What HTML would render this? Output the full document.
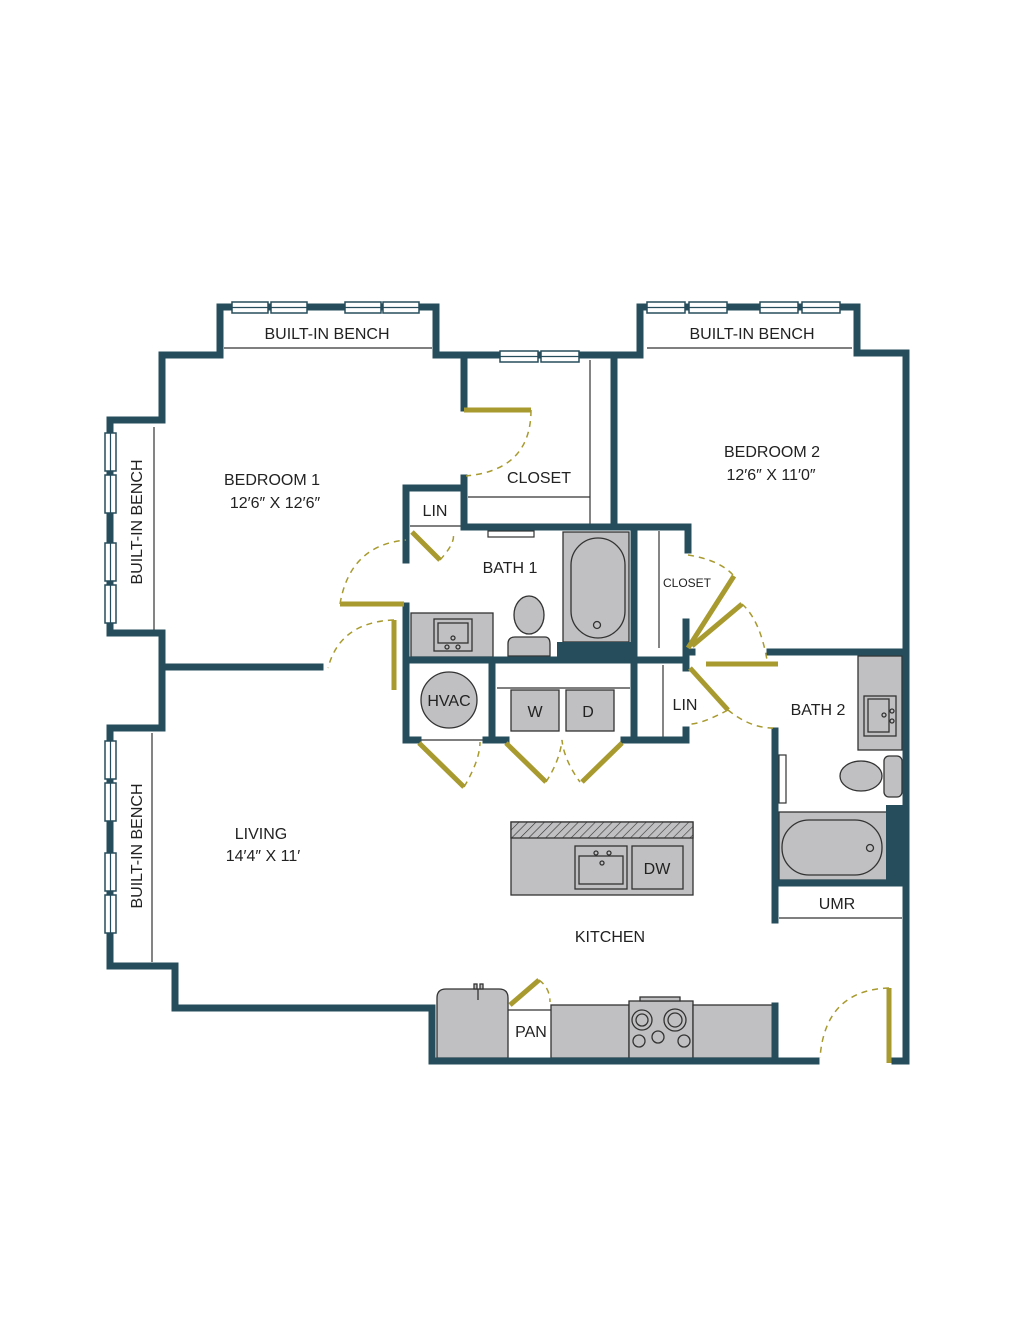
<!DOCTYPE html>
<html><head><meta charset="utf-8"><style>
html,body{margin:0;padding:0;background:#fff;}
svg{display:block}
text{font-family:"Liberation Sans",sans-serif;fill:#222;}
</style></head><body>
<svg width="1018" height="1336" viewBox="0 0 1018 1336" xmlns="http://www.w3.org/2000/svg">
<defs>
<pattern id="hatch" width="6" height="6" patternUnits="userSpaceOnUse" patternTransform="rotate(45)">
<rect width="6" height="6" fill="#c0c0c2"/><line x1="0" y1="0" x2="0" y2="6" stroke="#333" stroke-width="1.2"/>
</pattern>
</defs>
<!-- fixtures (gray) -->
<g fill="#c0c0c2" stroke="#333" stroke-width="1.3">
<rect x="411" y="613" width="82" height="44"/>
<rect x="434" y="619" width="38" height="32" fill="none"/><rect x="438" y="623" width="30" height="20" fill="none"/>
<circle cx="453" cy="638" r="2" fill="none"/><circle cx="447" cy="647" r="2" fill="none"/><circle cx="458" cy="647" r="2" fill="none"/>
<path d="M508 656 V644 Q508 637 515 637 H545 Q550 637 550 644 V656 Z"/>
<ellipse cx="529" cy="615" rx="15" ry="19"/>
<rect x="563" y="532" width="66" height="110"/>
<rect x="571" y="538" width="54" height="100" rx="27"/>
<circle cx="597" cy="625" r="3.5" fill="none"/>
<rect x="497" y="690" width="0" height="0"/>
<rect x="511" y="690" width="48" height="41"/><rect x="566" y="690" width="48" height="41"/>
<circle cx="449" cy="700" r="28"/>
<rect x="858" y="656" width="44" height="94"/>
<rect x="864" y="696" width="32" height="40" fill="none"/><rect x="868" y="699" width="21" height="33" fill="none"/>
<circle cx="884" cy="715" r="2" fill="none"/><circle cx="892" cy="711" r="2" fill="none"/><circle cx="892" cy="721" r="2" fill="none"/>
<ellipse cx="861" cy="776" rx="21" ry="15"/>
<rect x="884" y="756" width="18" height="41" rx="5"/>
<rect x="779" y="812" width="108" height="68"/>
<rect x="782" y="820" width="100" height="55" rx="27"/>
<circle cx="870" cy="848" r="3.5" fill="none"/>
<rect x="511" y="822" width="182" height="73"/>
<rect x="511" y="822" width="182" height="16" fill="url(#hatch)"/>
<rect x="575" y="846" width="52" height="43" fill="none"/><rect x="579" y="856" width="44" height="28" fill="none"/>
<circle cx="596" cy="853" r="2" fill="none"/><circle cx="609" cy="853" r="2" fill="none"/><circle cx="602" cy="863" r="2" fill="none"/>
<rect x="632" y="846" width="51" height="43" fill="none"/>
<path d="M437 1058 V998 Q437 989 446 989 H499 Q508 989 508 998 V1058 Z"/>
<line x1="478" y1="989" x2="478" y2="1000"/><rect x="474" y="984" width="3" height="5"/><rect x="480" y="984" width="3" height="5"/>
<rect x="551" y="1005" width="78" height="53"/>
<rect x="629" y="1001" width="64" height="57"/><rect x="640" y="997" width="40" height="4"/>
<circle cx="642" cy="1020" r="10" fill="none"/><circle cx="642" cy="1020" r="6" fill="none"/>
<circle cx="675" cy="1020" r="11" fill="none"/><circle cx="675" cy="1020" r="7" fill="none"/>
<circle cx="639" cy="1041" r="6" fill="none"/><circle cx="658" cy="1037" r="6" fill="none"/><circle cx="684" cy="1041" r="6" fill="none"/>
<rect x="693" y="1005" width="80" height="53"/>
</g>
<!-- thin lines -->
<g stroke="#333" stroke-width="1.2" fill="none">
<line x1="224" y1="348" x2="432" y2="348"/>
<line x1="647" y1="348" x2="852" y2="348"/>
<line x1="154" y1="427" x2="154" y2="631"/>
<line x1="152" y1="733" x2="152" y2="962"/>
<line x1="468" y1="497" x2="590" y2="497"/>
<line x1="590" y1="360" x2="590" y2="525"/>
<line x1="410" y1="526" x2="462" y2="526"/>
<rect x="488" y="531" width="46" height="6"/>
<line x1="497" y1="688" x2="630" y2="688"/>
<line x1="420" y1="740" x2="484" y2="740"/>
<line x1="659" y1="531" x2="659" y2="648"/>
<line x1="663" y1="665" x2="663" y2="737"/>
<rect x="779" y="755" width="7" height="48"/>
<line x1="779" y1="918" x2="902" y2="918"/>
<line x1="508" y1="1010" x2="551" y2="1010"/>
</g>
<!-- walls -->
<g stroke="#264d5c" stroke-width="7" fill="none" stroke-linejoin="miter" stroke-linecap="square">
<path d="M110 633 H162 V668 M110 728 H162 V668"/>
<path d="M110 633 V420 H162 V355 H220 V307 H436 V355 H614 M614 355 H640 V307 H857 V353 H906 V1061 H895"/>
<path d="M110 728 V966 H175 V1008 H432 V1061 H816"/>
<path d="M165 667 H320"/>
<path d="M464 355 V408"/>
<path d="M464 478 V527 M406 560 V488 H464"/>
<path d="M614 355 V527"/>
<path d="M464 527 H688 V550"/>
<path d="M406 606 V740 H418 M486 740 H506 M492 662 V740"/>
<path d="M406 660 H686 M634 527 V740 H624 M634 740 H686 V730"/>
<path d="M686 622 V668 M688 652 H692"/>
<path d="M770 652 H906"/>
<path d="M775 731 V920 M779 883 H906"/>
<path d="M775 1006 V1058"/>
</g>
<rect x="557" y="642" width="75" height="16" fill="#264d5c"/>
<rect x="886" y="805" width="20" height="80" fill="#264d5c"/>
<!-- windows -->
<g fill="#fff" stroke="#264d5c" stroke-width="1.5">
<rect x="232" y="302" width="36" height="11"/><rect x="271" y="302" width="36" height="11"/>
<rect x="345" y="302" width="36" height="11"/><rect x="383" y="302" width="36" height="11"/>
<rect x="500" y="351" width="38" height="11"/><rect x="541" y="351" width="38" height="11"/>
<rect x="647" y="302" width="38" height="11"/><rect x="689" y="302" width="38" height="11"/>
<rect x="760" y="302" width="38" height="11"/><rect x="802" y="302" width="38" height="11"/>
<rect x="105" y="433" width="11" height="38"/><rect x="105" y="475" width="11" height="38"/>
<rect x="105" y="543" width="11" height="38"/><rect x="105" y="585" width="11" height="38"/>
<rect x="105" y="741" width="11" height="38"/><rect x="105" y="783" width="11" height="38"/>
<rect x="105" y="853" width="11" height="38"/><rect x="105" y="895" width="11" height="38"/>
</g>
<g stroke="#264d5c" stroke-width="1.2">
<line x1="232" y1="307.5" x2="419" y2="307.5"/><line x1="500" y1="356.5" x2="579" y2="356.5"/>
<line x1="647" y1="307.5" x2="840" y2="307.5"/>
<line x1="110.5" y1="433" x2="110.5" y2="623"/><line x1="110.5" y1="741" x2="110.5" y2="933"/>
</g>
<!-- doors -->
<g stroke="#a89a2e" stroke-width="5" fill="none">
<line x1="464" y1="410" x2="531" y2="410"/>
<line x1="412" y1="532" x2="440" y2="560"/>
<line x1="340" y1="604" x2="404" y2="604"/>
<line x1="394" y1="620" x2="394" y2="690"/>
<line x1="419" y1="743" x2="464" y2="787"/>
<line x1="506" y1="743" x2="546" y2="782"/>
<line x1="622" y1="743" x2="582" y2="782"/>
<line x1="688" y1="648" x2="734" y2="576"/>
<line x1="692" y1="646" x2="742" y2="604"/>
<line x1="706" y1="664" x2="778" y2="664"/>
<line x1="690" y1="668" x2="728" y2="710"/>
<line x1="510" y1="1005" x2="539" y2="980"/>
<line x1="889" y1="988" x2="889" y2="1063"/>
</g>
<g stroke="#a89a2e" stroke-width="1.5" fill="none" stroke-dasharray="6 5">
<path d="M531 410 Q531 470 466 476"/>
<path d="M440 560 Q458 540 452 532"/>
<path d="M340 604 Q350 545 406 540"/>
<path d="M394 620 Q340 622 328 668"/>
<path d="M464 787 Q480 760 480 742"/>
<path d="M546 782 Q560 760 562 740 Q564 760 580 782"/>
<path d="M688 555 Q720 560 734 576"/>
<path d="M742 604 Q760 620 767 660"/>
<path d="M728 710 Q750 728 773 728"/>
<path d="M728 710 Q700 725 688 724"/>
<path d="M539 980 Q550 988 550 1002"/>
<path d="M889 988 Q825 990 820 1058"/>
</g>
<!-- labels -->
<g font-size="16" text-anchor="middle">
<text x="327" y="339">BUILT-IN BENCH</text>
<text x="752" y="339">BUILT-IN BENCH</text>
<text x="272" y="485">BEDROOM 1</text>
<text x="275" y="508">12′6″ X 12′6″</text>
<text x="772" y="457">BEDROOM 2</text>
<text x="771" y="480">12′6″ X 11′0″</text>
<text x="539" y="483">CLOSET</text>
<text x="435" y="516">LIN</text>
<text x="510" y="573">BATH 1</text>
<text x="687" y="587" font-size="12">CLOSET</text>
<text x="449" y="706">HVAC</text>
<text x="535" y="717">W</text>
<text x="588" y="717">D</text>
<text x="685" y="710">LIN</text>
<text x="818" y="715">BATH 2</text>
<text x="261" y="839">LIVING</text>
<text x="263" y="861">14′4″ X 11′</text>
<text x="657" y="874">DW</text>
<text x="837" y="909">UMR</text>
<text x="610" y="942">KITCHEN</text>
<text x="531" y="1037">PAN</text>
<text transform="translate(142,522) rotate(-90)">BUILT-IN BENCH</text>
<text transform="translate(142,846) rotate(-90)">BUILT-IN BENCH</text>
</g>
</svg>
</body></html>
